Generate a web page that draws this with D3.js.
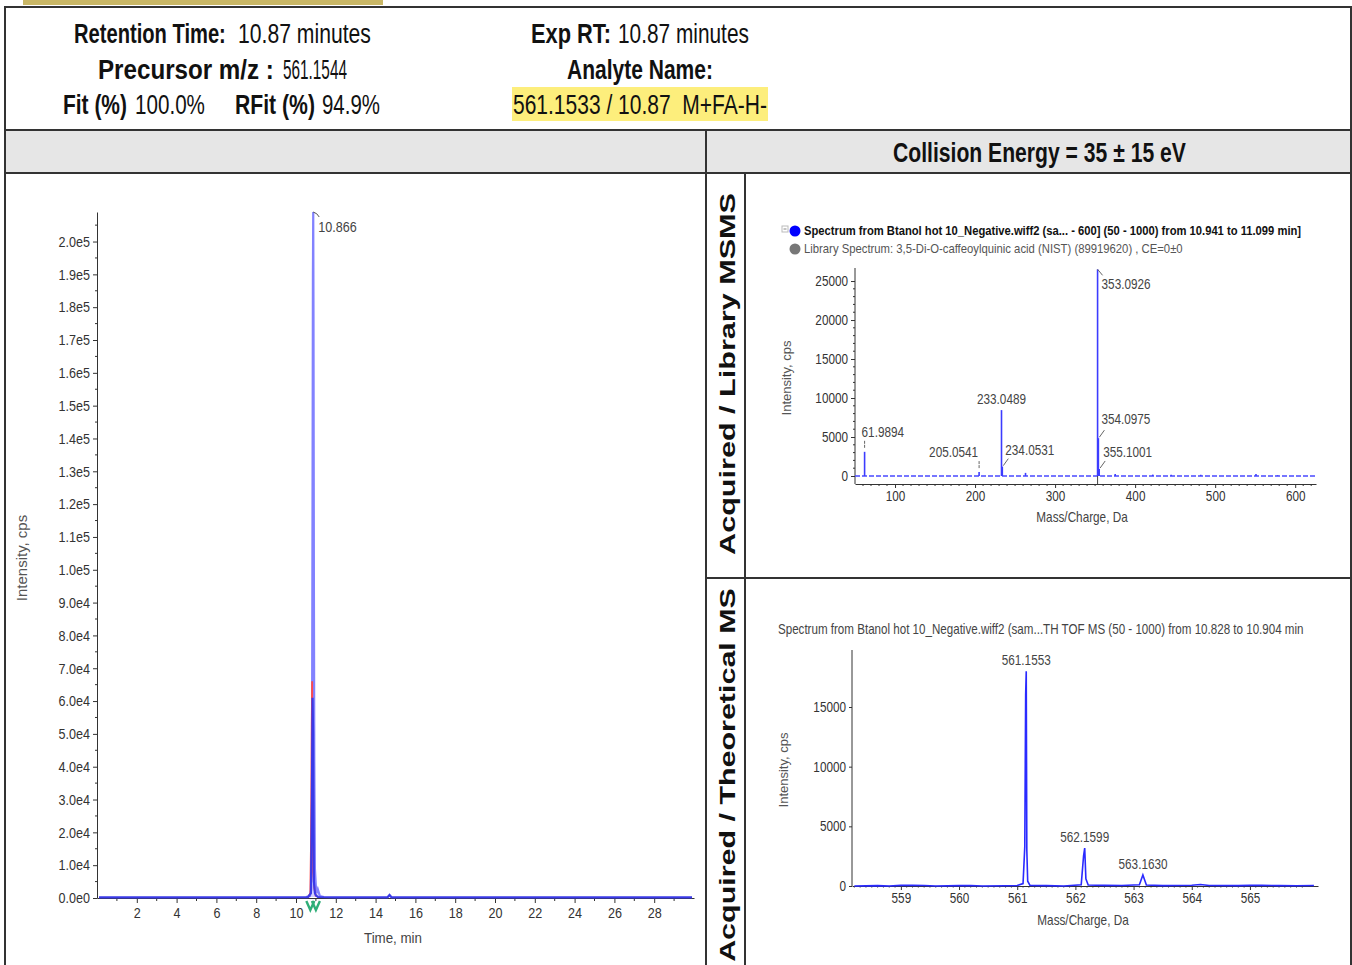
<!DOCTYPE html>
<html>
<head>
<meta charset="utf-8">
<script src="https://cdn.jsdelivr.net/npm/d3@7"></script>
<style>
body{margin:0;background:#fff;}
svg{display:block;}
text{font-family:'Liberation Sans',Arial,sans-serif;}
</style>
</head>
<body>
<svg width="1352" height="965"></svg>
<script>
// ---- data ----
// XIC chromatogram (left panel)
const xicTime = [10.5, 10.7, 10.76, 10.8, 10.83, 10.85, 10.866, 10.88, 10.9, 10.92, 10.95, 11.0, 11.05, 11.1, 11.2, 11.4];
const xicInt  = [300, 600, 2500, 30000, 120000, 190000, 209000, 175000, 95000, 42000, 9000, 3500, 1500, 2600, 600, 300];
const redTime = [10.6, 10.72, 10.76, 10.79, 10.81, 10.83, 10.86, 10.92, 11.0];
const redInt  = [200, 1500, 20000, 52000, 66000, 40000, 8000, 3000, 400];
const baseTime = [0.1, 4, 8, 10.6, 10.75, 10.8, 10.83, 10.86, 10.9, 10.95, 11.0, 11.1, 12, 14.6, 14.7, 14.8, 20, 25, 29.9];
const baseInt  = [200, 200, 200, 250, 1500, 30000, 61000, 50000, 5000, 1500, 800, 300, 200, 200, 900, 200, 200, 200, 200];
const xicTicks = [2, 4, 6, 8, 10, 12, 14, 16, 18, 20, 22, 24, 26, 28];
const xicYTicks = d3.range(0, 200001, 10000);
const apexLabel = '10.866';
const markTimes = [10.72, 11.0];

// MSMS spectrum (top right)
const msmsMz  = [61.9894, 205.0541, 233.0489, 234.0531, 263.06, 353.0926, 354.0975, 355.1001, 375.1, 422.0, 445.0, 482.0, 551.0, 578.0];
const msmsInt = [3100, 500, 8450, 1200, 400, 26500, 4850, 900, 250, 180, 150, 160, 250, 90];
const msmsLabeled = ['61.9894', '205.0541', '233.0489', '234.0531', '353.0926', '354.0975', '355.1001'];
const msmsXTicks = [100, 200, 300, 400, 500, 600];
const msmsYTicks = [0, 5000, 10000, 15000, 20000, 25000];

// TOF MS spectrum (bottom right)
const msMz  = [558.2, 558.6, 558.8, 559.0, 559.2, 559.4, 559.6, 560.0, 560.2, 560.4, 560.8, 561.0, 561.1, 561.13, 561.145, 561.155, 561.165, 561.18, 561.22, 561.5, 561.8, 562.1, 562.14, 562.16, 562.18, 562.22, 562.5, 562.8, 563.1, 563.16, 563.22, 563.5, 564.0, 564.15, 564.3, 564.8, 565.0, 565.2, 565.5, 565.8, 566.1];
const msInt = [0, 30, 0, 50, 60, 40, 0, 30, 40, 0, 20, 40, 200, 3300, 16000, 18000, 3000, 400, 50, 30, 0, 100, 2500, 3180, 600, 80, 50, 40, 100, 920, 80, 30, 60, 120, 40, 30, 50, 60, 30, 20, 40];
const msPeaks = [561.1553, 562.1599, 563.1630];
const msPeakInt = [18000, 3180, 920];
const msXTicks = [559, 560, 561, 562, 563, 564, 565];
const msYTicks = [0, 5000, 10000, 15000];

const svg = d3.select('svg');
const ink = '#333';

// ---- frame ----
svg.append('rect').attr('x', 23).attr('y', 0).attr('width', 360).attr('height', 5).attr('fill', '#c9b766');
svg.append('rect').attr('x', 5).attr('y', 130).attr('width', 1346).attr('height', 43).attr('fill', '#e6e6e6');
svg.append('rect').attr('x', 512).attr('y', 87).attr('width', 256).attr('height', 34).attr('fill', '#fdee7c');

const frame = svg.append('g').attr('stroke', '#333').attr('stroke-width', 2).attr('fill', 'none');
frame.append('path').attr('d', 'M5,966V7H1351V966');
frame.append('path').attr('d', 'M5,130H1351M5,173H1351M706,130V966M745,173V966M706,578H1351');

// ---- header text (w = width it takes in the picture) ----
const header = [
  {x: 74, y: 43, w: 152, t: 'Retention Time:', b: true},
  {x: 238, y: 43, w: 133, t: '10.87 minutes'},
  {x: 98, y: 79, w: 176, t: 'Precursor m/z :', b: true},
  {x: 283, y: 79, w: 64, t: '561.1544'},
  {x: 63, y: 114, w: 64, t: 'Fit (%)', b: true},
  {x: 135, y: 114, w: 70, t: '100.0%'},
  {x: 235, y: 114, w: 80, t: 'RFit (%)', b: true},
  {x: 322, y: 114, w: 58, t: '94.9%'},
  {x: 531, y: 43, w: 80, t: 'Exp RT:', b: true},
  {x: 618, y: 43, w: 131, t: '10.87 minutes'},
  {x: 567, y: 79, w: 146, t: 'Analyte Name:', b: true},
  {x: 513, y: 114, w: 254, t: '561.1533 / 10.87  M+FA-H-'},
  {x: 893, y: 162, w: 293, t: 'Collision Energy = 35 \u00b1 15 eV', b: true}
];
svg.selectAll('text.hdr').data(header).enter().append('text')
  .attr('class', 'hdr')
  .attr('x', d => d.x).attr('y', d => d.y)
  .attr('data-w', d => d.w)
  .attr('font-size', 28).attr('font-weight', d => d.b ? 'bold' : 'normal')
  .attr('fill', '#111')
  .style('white-space', 'pre')
  .text(d => d.t);

// vertical side labels
[{t: 'Acquired / Library MSMS', c: 374, w: 362}, {t: 'Acquired / Theoretical MS', c: 775, w: 374}].forEach(d => {
  svg.append('text')
    .attr('transform', `translate(735,${d.c}) rotate(-90)`)
    .attr('text-anchor', 'middle')
    .attr('data-w', d.w)
    .attr('font-size', 22).attr('font-weight', 'bold')
    .attr('fill', '#111')
    .text(d.t);
});

function styleAxis(g, fs) {
  g.selectAll('path.domain').attr('stroke', ink);
  g.selectAll('.tick line').attr('stroke', ink);
  g.selectAll('.tick text').attr('fill', ink).attr('font-size', fs)
    .style('font-family', "'Liberation Sans',Arial,sans-serif");
}
function minor(g, scale, vals, orient, len) {
  g.selectAll(null).data(vals).enter().append('line')
    .attr('stroke', ink)
    .each(function(v) {
      const s = d3.select(this);
      if (orient === 'left') s.attr('x1', 0).attr('x2', -len).attr('y1', scale(v)).attr('y2', scale(v));
      else s.attr('y1', 0).attr('y2', len).attr('x1', scale(v)).attr('x2', scale(v));
    });
}

// ---- left: XIC chromatogram ----
const cx = d3.scaleLinear().domain([0, 30]).range([97, 694]);
const cy = d3.scaleLinear().domain([0, 209000]).range([898, 212]);
const fmtE = v => d3.format('.1e')(v).replace('+', '');

const cyAxis = svg.append('g').attr('transform', 'translate(97,0)')
  .call(d3.axisLeft(cy).tickValues(xicYTicks).tickFormat(fmtE).tickSize(4).tickPadding(3).tickSizeOuter(0));
styleAxis(cyAxis, 15);
minor(cyAxis, cy, d3.range(5000, 209000, 10000), 'left', 2);
const cxAxis = svg.append('g').attr('transform', 'translate(0,898)')
  .call(d3.axisBottom(cx).tickValues(xicTicks).tickSize(5).tickPadding(4).tickSizeOuter(0));
styleAxis(cxAxis, 15);
minor(cxAxis, cx, d3.range(1, 30, 2), 'bottom', 3);

svg.append('text').attr('x', 393).attr('y', 943).attr('text-anchor', 'middle')
  .attr('font-size', 14.5).attr('fill', '#444').attr('data-k', 0.92).text('Time, min');
svg.append('text').attr('transform', 'translate(27,558) rotate(-90)').attr('text-anchor', 'middle')
  .attr('font-size', 15).attr('fill', '#555').attr('data-k', 1).text('Intensity, cps');

const cline = d3.line().x(d => cx(d[0])).y(d => cy(d[1]));
svg.append('path').datum(d3.zip(xicTime, xicInt)).attr('d', cline)
  .attr('fill', '#b4b4ff').attr('fill-opacity', 0.6).attr('stroke', '#8282ff').attr('stroke-width', 2.2);
svg.append('path').datum(d3.zip(redTime, redInt)).attr('d', cline)
  .attr('fill', 'none').attr('stroke', '#ff4a4a').attr('stroke-width', 1.8);
svg.append('path').datum(d3.zip(baseTime, baseInt)).attr('d', cline)
  .attr('fill', 'none').attr('stroke', '#3a3ae8').attr('stroke-width', 2.2);

// integration markers
svg.selectAll('path.mark').data(markTimes).enter().append('path')
  .attr('class', 'mark')
  .attr('d', t => `M${cx(t) - 4},901L${cx(t)},910L${cx(t) + 4},901`)
  .attr('fill', 'none').attr('stroke', '#2fae78').attr('stroke-width', 2.4);

// apex label
const apexX = cx(+apexLabel), apexY = cy(d3.max(xicInt));
svg.append('path').attr('d', `M${apexX},${apexY}q4,1 6,5`).attr('fill', 'none').attr('stroke', '#555');
svg.append('text').attr('x', apexX + 5).attr('y', apexY + 20).attr('font-size', 15)
  .attr('fill', '#444').text(apexLabel);

// ---- top right: MSMS ----
const mx = d3.scaleLinear().domain([50, 626]).range([855, 1316]);
const my = d3.scaleLinear().domain([0, 26670]).range([476, 268]);

svg.append('rect').attr('x', 782).attr('y', 226).attr('width', 6).attr('height', 6)
  .attr('fill', '#fff').attr('stroke', '#bbb');
svg.append('line').attr('x1', 783.5).attr('x2', 786.5).attr('y1', 229).attr('y2', 229).attr('stroke', '#888');
svg.append('circle').attr('cx', 795).attr('cy', 231).attr('r', 5.5).attr('fill', '#0000ff');
svg.append('circle').attr('cx', 795).attr('cy', 249).attr('r', 5.5).attr('fill', '#777');
svg.append('text').attr('x', 804).attr('y', 235.5).attr('data-w', 498)
  .attr('font-size', 13).attr('font-weight', 'bold').attr('fill', '#111')
  .text('Spectrum from Btanol hot 10_Negative.wiff2 (sa... - 600] (50 - 1000) from 10.941 to 11.099 min]');
svg.append('text').attr('x', 804).attr('y', 253.5).attr('data-w', 379)
  .attr('font-size', 13).attr('fill', '#555')
  .text('Library Spectrum: 3,5-Di-O-caffeoylquinic acid (NIST) (89919620) , CE=0\u00b10');

const myAxis = svg.append('g').attr('transform', 'translate(855,0)')
  .call(d3.axisLeft(my).tickValues(msmsYTicks).tickSize(4).tickPadding(3).tickSizeOuter(0).tickFormat(d3.format('d')));
myAxis.select('path.domain').attr('d', 'M0,268V484');
styleAxis(myAxis, 14);
minor(myAxis, my, d3.range(1000, 26000, 1000).filter(v => v % 5000), 'left', 2);
const mxAxis = svg.append('g').attr('transform', 'translate(0,484)')
  .call(d3.axisBottom(mx).tickValues(msmsXTicks).tickSize(4).tickPadding(3).tickSizeOuter(0));
styleAxis(mxAxis, 14);
minor(mxAxis, mx, d3.range(60, 626, 10).filter(v => v % 100), 'bottom', 2);

svg.append('line').attr('x1', mx(50)).attr('x2', mx(626)).attr('y1', my(0)).attr('y2', my(0))
  .attr('stroke', '#4a4aff').attr('stroke-width', 1.5).attr('stroke-dasharray', '5,2');
svg.append('line').attr('x1', mx(353.0926)).attr('x2', mx(353.0926)).attr('y1', my(0)).attr('y2', 484)
  .attr('stroke', '#444');
svg.selectAll('line.stick').data(d3.zip(msmsMz, msmsInt)).enter().append('line')
  .attr('class', 'stick')
  .attr('x1', d => mx(d[0])).attr('x2', d => mx(d[0]))
  .attr('y1', my(0)).attr('y2', d => my(d[1]))
  .attr('stroke', '#3c3cff').attr('stroke-width', 1.6);

// label placement: [dx, dy, anchor, leader]
const msmsPlace = {
  '61.9894':  [-3, -15, 'start', 'v'],
  '205.0541': [-1, -15, 'end', 'v'],
  '233.0489': [0, -6, 'middle', null],
  '234.0531': [3, -12, 'start', 's'],
  '353.0926': [4, 20, 'start', 'd'],
  '354.0975': [3, -14, 'start', 's'],
  '355.1001': [4, -12, 'start', 's']
};
msmsMz.forEach((m, i) => {
  const lbl = msmsLabeled.find(s => +s === m);
  if (!lbl) return;
  const p = msmsPlace[lbl];
  const px = mx(m), py = my(msmsInt[i]);
  svg.append('text').attr('x', px + p[0]).attr('y', py + p[1]).attr('text-anchor', p[2])
    .attr('font-size', 14).attr('fill', '#444').text(lbl);
  let d = null;
  if (p[3] === 'v') d = `M${px},${py - 4}V${py - 11}`;
  if (p[3] === 's') d = `M${px + 1},${py - 1}L${px + 6},${py - 8}`;
  if (p[3] === 'd') d = `M${px},${py}L${px + 5},${py + 6}`;
  if (d) svg.append('path').attr('d', d).attr('stroke', '#666').attr('fill', 'none')
    .attr('stroke-dasharray', p[3] === 'v' ? '3,1' : null);
});

svg.append('text').attr('x', 1082).attr('y', 522).attr('text-anchor', 'middle')
  .attr('font-size', 14).attr('fill', '#444').text('Mass/Charge, Da');
svg.append('text').attr('transform', 'translate(791,378) rotate(-90)').attr('text-anchor', 'middle')
  .attr('font-size', 13).attr('fill', '#555').attr('data-k', 1).text('Intensity, cps');

// ---- bottom right: TOF MS ----
const sx = d3.scaleLinear().domain([558.16, 566.17]).range([852, 1318]);
const sy = d3.scaleLinear().domain([0, 19777]).range([886, 650]);

svg.append('text').attr('x', 778).attr('y', 634).attr('data-w', 526)
  .attr('font-size', 14).attr('fill', '#444')
  .text('Spectrum from Btanol hot 10_Negative.wiff2 (sam...TH TOF MS (50 - 1000) from 10.828 to 10.904 min');

const syAxis = svg.append('g').attr('transform', 'translate(852,0)')
  .call(d3.axisLeft(sy).tickValues(msYTicks).tickSize(3).tickPadding(3).tickSizeOuter(0).tickFormat(d3.format('d')));
syAxis.select('path.domain').attr('d', 'M0,650V886');
styleAxis(syAxis, 14);
const sxAxis = svg.append('g').attr('transform', 'translate(0,886)')
  .call(d3.axisBottom(sx).tickValues(msXTicks).tickSize(4).tickPadding(3).tickSizeOuter(0));
styleAxis(sxAxis, 14);
minor(sxAxis, sx, d3.range(558.2, 566.1, 0.1).filter(v => Math.abs(v - Math.round(v)) > 0.05), 'bottom', 1.5);

svg.append('path').datum(d3.zip(msMz, msInt))
  .attr('d', d3.line().x(d => sx(d[0])).y(d => sy(d[1])))
  .attr('fill', 'none').attr('stroke', '#2a2aff').attr('stroke-width', 1.6);

svg.selectAll('text.mspk').data(msPeaks).enter().append('text')
  .attr('class', 'mspk')
  .attr('x', d => sx(d)).attr('y', (d, i) => sy(msPeakInt[i]) - 6)
  .attr('text-anchor', 'middle').attr('font-size', 14).attr('fill', '#444')
  .text(d => d3.format('.4f')(d));

svg.append('text').attr('x', 1083).attr('y', 925).attr('text-anchor', 'middle')
  .attr('font-size', 14).attr('fill', '#444').text('Mass/Charge, Da');
svg.append('text').attr('transform', 'translate(788,770) rotate(-90)').attr('text-anchor', 'middle')
  .attr('font-size', 13).attr('fill', '#555').attr('data-k', 1).text('Intensity, cps');

// narrow every text horizontally (the original uses a condensed face):
// data-w = target width, data-k = factor, default 0.84
svg.selectAll('text').each(function() {
  const el = d3.select(this);
  const w = this.getComputedTextLength();
  const k = el.attr('data-w') ? +el.attr('data-w') / w : (el.attr('data-k') ? +el.attr('data-k') : 0.84);
  if (k === 1) return;
  const x = +el.attr('x') || 0;
  const t = el.attr('transform') || '';
  el.attr('transform', `${t} translate(${x},0) scale(${k},1) translate(${-x},0)`);
});
</script>
</body>
</html>
